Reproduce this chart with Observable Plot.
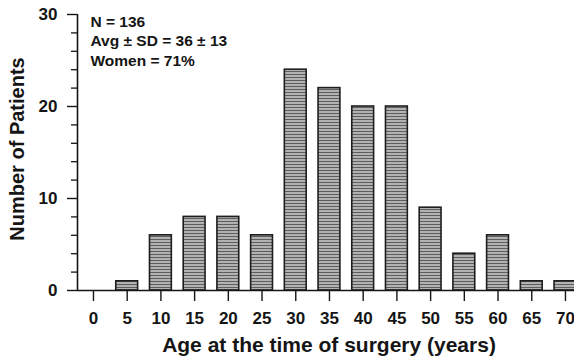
<!DOCTYPE html>
<html><head><meta charset="utf-8">
<script src="https://cdn.jsdelivr.net/npm/d3@7"></script>
<script src="https://cdn.jsdelivr.net/npm/@observablehq/plot@0.6"></script>
<style>html,body{margin:0;padding:0;background:#fff;overflow:hidden}</style>
</head><body><div id="chart"></div>
<script>
// Data
const ages = [0, 5, 10, 15, 20, 25, 30, 35, 40, 45, 50, 55, 60, 65, 70];
const counts = [0, 1, 6, 8, 8, 6, 24, 22, 20, 20, 9, 4, 6, 1, 1];
const xTicks = [0, 5, 10, 15, 20, 25, 30, 35, 40, 45, 50, 55, 60, 65, 70];
const yMajorTicks = [0, 10, 20, 30];
const yMinorTicks = [2, 4, 6, 8, 12, 14, 16, 18, 22, 24, 26, 28];
const statsLines = ["N = 136", "Avg ± SD = 36 ± 13", "Women = 71%"];
const xTitle = "Age at the time of surgery (years)";
const yTitle = "Number of Patients";

const data = ages.map((a, i) => ({age: a, count: counts[i]}));
const xDomain = [-2.37, 71.34];
const halfBar = 1.62; // half bar width, in years

const ink = "#151515";
const plot = Plot.plot({
  width: 574, height: 359,
  marginLeft: 77, marginRight: 0, marginTop: 14, marginBottom: 69,
  style: {fontFamily: "'Liberation Sans', Arial, sans-serif", fontWeight: "bold", color: ink, background: "#fff"},
  x: {type: "linear", domain: xDomain, label: null},
  y: {domain: [0, 30], label: null},
  marks: [
    Plot.rectY(data, {x1: d => d.age - halfBar, x2: d => d.age + halfBar, y1: 0, y2: "count",
      fill: "url(#hatch)", stroke: "#1e1e1e", strokeWidth: 1.6}),
    Plot.ruleY([0], {stroke: ink, strokeWidth: 1.6}),
    Plot.ruleX([xDomain[0]], {y1: 0, y2: 30, stroke: ink, strokeWidth: 1.6}),
    Plot.axisY(yMajorTicks, {tickSize: 10, tickPadding: 10, fontSize: 17, fontWeight: "bold", strokeWidth: 1.4, label: null, tickFormat: d => String(d)}),
    Plot.axisY(yMinorTicks, {tickSize: 6, strokeWidth: 1.3, label: null, tickFormat: () => ""}),
    Plot.axisX(xTicks, {tickSize: 11, tickPadding: 10, fontSize: 17, fontWeight: "bold", strokeWidth: 1.4, label: null, tickFormat: d => String(d)}),
    Plot.text([statsLines.join("\n")], {text: d => d, frameAnchor: "top-left", textAnchor: "start", lineAnchor: "top",
      dx: 13, dy: -1.7, fontSize: 15.5, lineHeight: 1.26, fontWeight: "bold", fill: ink}),
    Plot.text([yTitle], {text: d => d, frameAnchor: "left", textAnchor: "middle", lineAnchor: "middle", rotate: -90, dx: -60, dy: -3.5, fontSize: 20, fontWeight: "bold", fill: ink}),
    Plot.text([xTitle], {text: d => d, frameAnchor: "bottom", textAnchor: "middle", lineAnchor: "middle", dx: 3, dy: 55, fontSize: 21, fontWeight: "bold", fill: ink})
  ]
});

d3.select(plot).insert("defs", ":first-child").html(
  '<pattern id="hatch" patternUnits="userSpaceOnUse" width="6" height="3">' +
  '<rect width="6" height="3" fill="#b2b2b2"/>' +
  '<rect y="2" width="6" height="1" fill="#5e5e5e"/>' +
  '</pattern>'
);
document.getElementById("chart").append(plot);
</script>
</body></html>
